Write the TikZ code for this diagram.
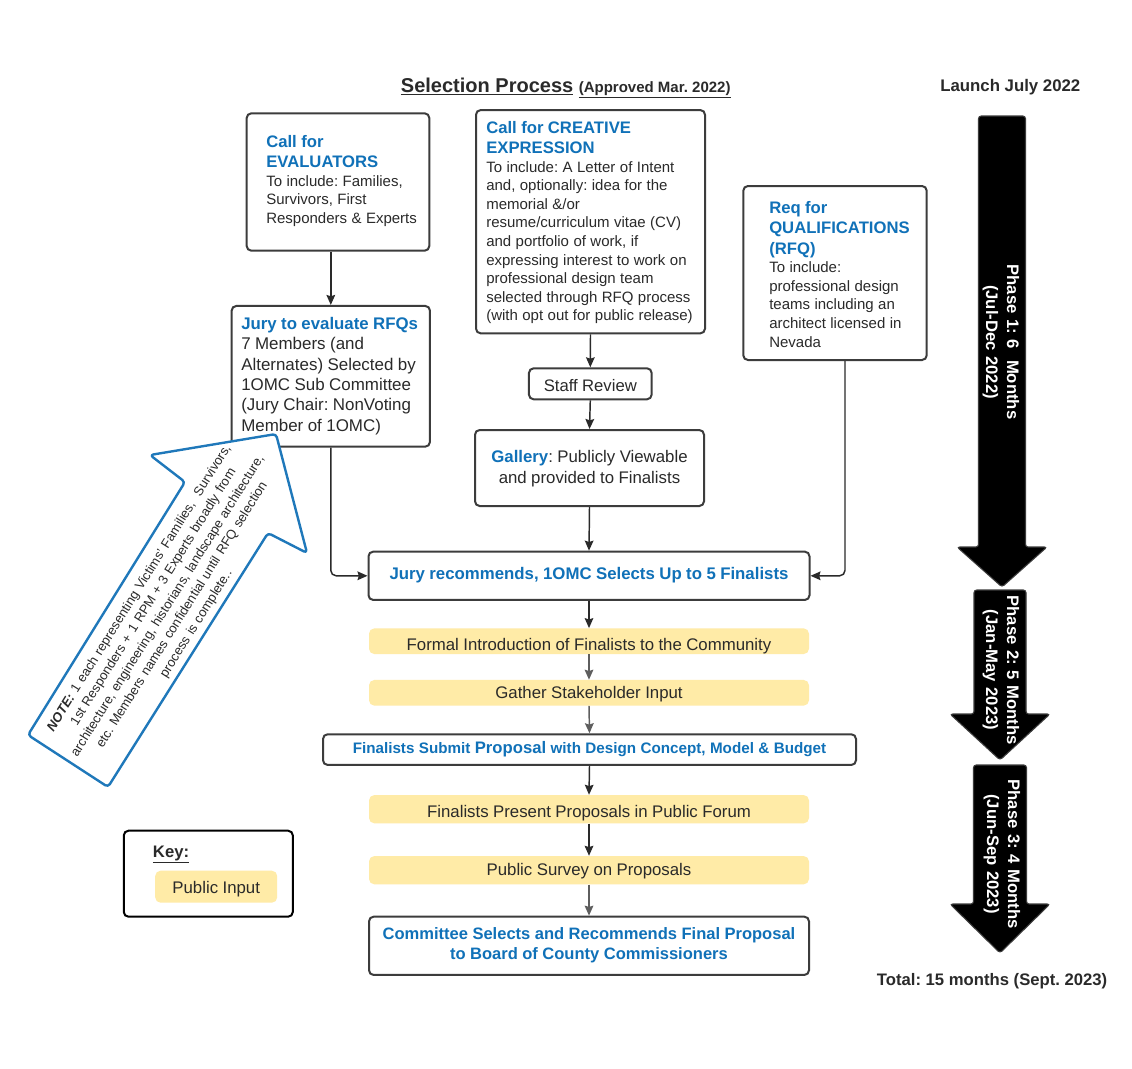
\documentclass[tikz,border=0pt]{standalone}
\usepackage{fontspec}
\setmainfont{Liberation Sans}
\usetikzlibrary{arrows.meta,calc}
\definecolor{hblue}{HTML}{1071B8}
\definecolor{bgray}{HTML}{3C3C3C}
\definecolor{pyel}{HTML}{FFEBA7}
\definecolor{tdark}{HTML}{2A2A2A}
\definecolor{nblue}{HTML}{1F78BA}
\definecolor{agray}{HTML}{5E5E5E}
\frenchspacing
\newcommand\fsz[2]{\fontsize{#1}{#2}\selectfont}
\newcommand\myhd[1]{{\fsz{12.5}{15.4}\bfseries\leavevmode\color{hblue}#1\par}}
\newcommand\mybd[1]{{\fsz{11.25}{13.9}\leavevmode#1\par}}
\begin{document}
\begin{tikzpicture}[x=0.75pt,y=-0.75pt,
  box/.style={draw=bgray,line width=1.5pt,rounded corners=3.5pt,fill=white,inner sep=0pt},
  ybox/.style={fill=pyel,rounded corners=4pt,inner sep=0pt},
  sz/.style 2 args={minimum width=#1*0.75pt,minimum height=#2*0.75pt},
  txt/.style={inner sep=0pt,text=tdark,align=left,text width=230pt,anchor=base west},
  ctxt/.style={inner sep=0pt,text=tdark,align=center,text width=400pt,anchor=base},
  arr/.style={draw=tdark,line width=1.1pt,-{Stealth[length=7.5pt,width=6.5pt,inset=1pt]}},
  garr/.style={arr,draw=agray},
  phase/.style={fill=black,draw=bgray,line width=0.8pt,rounded corners=2pt},
  phtxt/.style={text=white,font=\fsz{12.5}{15.75}\bfseries,align=center,text width=160pt,rotate=-90,inner sep=0pt}
]
\useasboundingbox[fill=white] (0,0) rectangle (1132,1068);

% title and headers
\node[inner sep=0pt,anchor=base west,text=tdark] (title) at (400.7,92.3)
  {\fsz{15}{18}\bfseries\underline{Selection Process} {\fsz{11.25}{13}\underline{(Approved Mar. 2022)}}};
\node[inner sep=0pt,anchor=base west,text=tdark] (launch) at (940,91)
  {\fsz{12.6}{15}\bfseries Launch July 2022};
\node[inner sep=0pt,anchor=base west,text=tdark] (total) at (876.7,985)
  {\fsz{12.5}{15}\bfseries Total: 15 months (Sept. 2023)};

% boxes
\node[box,sz={182.6}{137.4}] (eval) at (338,182) {};
\node[txt] (evalT) at (266,147.3) {\myhd{Call for\\EVALUATORS}\mybd{To include: Families,\\Survivors, First\\Responders \& Experts}};

\node[box,sz={229}{223.3}] (creative) at (590.5,221.7) {};
\node[txt] (creativeT) at (486,133.3) {\myhd{Call for CREATIVE\\EXPRESSION}\mybd{To include: A Letter of Intent\\and, optionally: idea for the\\memorial \&/or\\resume/curriculum vitae (CV)\\and portfolio of work, if\\expressing interest to work on\\professional design team\\selected through RFQ process\\(with opt out for public release)}};

\node[box,sz={183.4}{174}] (rfq) at (835,273) {};
\node[txt] (rfqT) at (769,213.3) {\myhd{Req for\\QUALIFICATIONS\\(RFQ)}\mybd{To include:\\professional design\\teams including an\\architect licensed in\\Nevada}};

\node[box,sz={198.3}{140.7}] (jury) at (330.8,376.3) {};
\node[txt] (juryT) at (241,329.3) {{\fsz{12.6}{15.4}\bfseries\leavevmode\color{hblue}Jury to evaluate RFQs\par}{\fsz{12.7}{15.3}\leavevmode 7 Members (and\\Alternates) Selected by\\1OMC Sub Committee\\(Jury Chair: NonVoting\\Member of 1OMC)\par}};

\node[box,sz={122.7}{31}] (staff) at (590.3,383.8) {};
\node[ctxt] (staffT) at (590.3,391.7) {\fsz{12.5}{15}Staff Review};

\node[box,sz={229}{76}] (gallery) at (589.5,468) {};
\node[ctxt] (galleryT) at (589.5,462) {\fsz{12.6}{15.75}\textbf{\textcolor{hblue}{Gallery}}: Publicly Viewable\\and provided to Finalists\par};

\node[box,sz={441}{48.3}] (jrec) at (589,575.8) {};
\node[ctxt,text=hblue] (jrecT) at (589,579.3) {\fsz{12.6}{15}\bfseries Jury recommends, 1OMC Selects Up to 5 Finalists};

\node[ybox,sz={440}{25.7}] (formal) at (589,641.2) {};
\node[ctxt] (formalT) at (589,650) {\fsz{12.6}{15}Formal Introduction of Finalists to the Community};

\node[ybox,sz={440}{25.7}] (gather) at (589,692.8) {};
\node[ctxt] (gatherT) at (589,698.3) {\fsz{12.6}{15}Gather Stakeholder Input};

\node[box,sz={533}{30.7}] (submit) at (589.5,749.6) {};
\node[ctxt,text=hblue] (submitT) at (589.5,753.3) {\fsz{11.4}{14}\bfseries Finalists Submit {\fsz{12.5}{15}Proposal} with Design Concept, Model \& Budget};

\node[ybox,sz={440}{28.3}] (present) at (589,809.2) {};
\node[ctxt] (presentT) at (589,817.3) {\fsz{12.6}{15}Finalists Present Proposals in Public Forum};

\node[ybox,sz={440}{28.3}] (survey) at (589,870.2) {};
\node[ctxt] (surveyT) at (589,875) {\fsz{12.6}{15}Public Survey on Proposals};

\node[box,sz={440}{58.3}] (committee) at (589,945.8) {};
\node[ctxt,text=hblue] (committeeT) at (589,939.3) {\fsz{12.4}{15}\bfseries Committee Selects and Recommends Final Proposal\\to Board of County Commissioners\par};

% key
\node[box,draw=black,sz={169}{86}] (key) at (208.3,873.7) {};
\node[inner sep=0pt,anchor=base west,text=tdark] (keyT) at (152.7,857) {\fsz{12.5}{15}\bfseries\underline{Key:}};
\node[ybox,sz={122}{32}] (pub) at (216.2,886.7) {};
\node[ctxt] (pubT) at (216.2,893) {\fsz{12.6}{15}Public Input};

% connectors
\draw[arr] (eval.south -| jury.north) -- (jury.north);
\draw[arr,rounded corners=4pt] (jury.south) |- (jrec.west);
\draw[arr,rounded corners=4pt] ([xshift=7.5pt]rfq.south) |- (jrec.east);
\draw[arr] (creative.south) -- (staff.north);
\draw[arr] (staff.south) -- (gallery.north);
\draw[arr] (gallery.south) -- (jrec.north);
\draw[arr] (jrec.south) -- (formal.north);
\draw[garr] (formal.south) -- (gather.north);
\draw[garr] (gather.south) -- (submit.north);
\draw[arr] (submit.south) -- (present.north);
\draw[arr] (present.south) -- (survey.north);
\draw[garr] (survey.south) -- (committee.north);

% note arrow
\draw[draw=nblue,line width=1.8pt,fill=white,rounded corners=2.5pt,line join=round]
  (276,434) -- (307,553) -- (268,533) -- (108,787) -- (28,735) -- (185,482) -- (150,455) -- cycle;
\node[rotate=58,text=tdark,align=center,text width=300pt,inner sep=0pt] (note) at (168,606)
  {\fsz{9.8}{12.6}\textbf{\textit{NOTE:}} 1 each representing Victims’ Families,\ \ Survivors,\\1st Responders + 1 RPM + 3 Experts broadly from\\architecture, engineering, historians, landscape architecture,\\etc. Members names confidential until RFQ selection\\process is complete..\par};

% phase arrows
\path[phase] (978.5,116) -- (1025.5,116) -- (1025.5,547) -- (1047,547) -- (1002,587) -- (957,547) -- (978.5,547) -- cycle;
\node[phtxt] (p1) at (1001,342) {Phase 1: 6\ \ Months\\(Jul-Dec 2022)\par};
\path[phase] (974,590) -- (1026,590) -- (1026,714) -- (1050,714) -- (1000,760) -- (950,714) -- (974,714) -- cycle;
\node[phtxt] (p2) at (1001,670) {Phase 2: 5 Months\\(Jan-May 2023)\par};
\path[phase] (973.5,765) -- (1026.5,765) -- (1026.5,904) -- (1050,904) -- (1000,953) -- (950,904) -- (973.5,904) -- cycle;
\node[phtxt] (p3) at (1002,854) {Phase 3: 4 Months\\(Jun-Sep 2023)\par};
\end{tikzpicture}
\end{document}
